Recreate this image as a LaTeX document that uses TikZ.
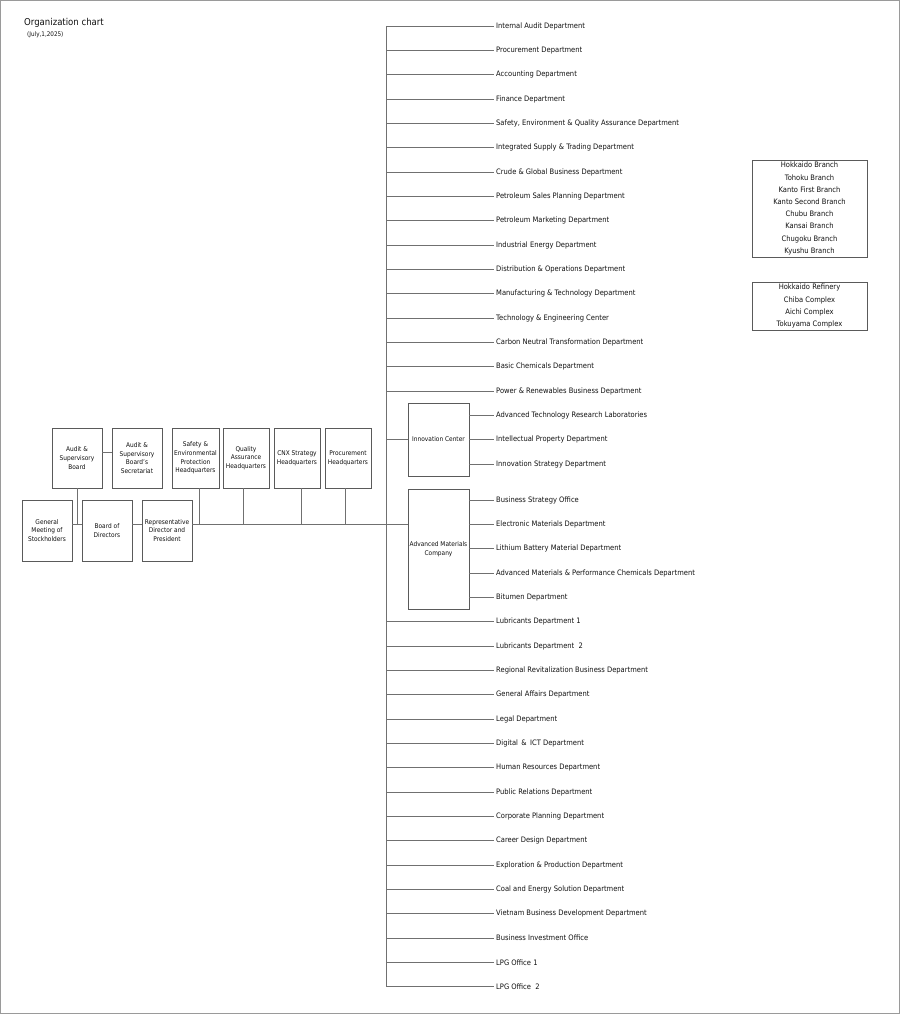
\documentclass[tikz,border=0pt]{standalone}
\usepackage{fontspec}
\setmainfont{DejaVu Sans}[FakeStretch=0.9]
\definecolor{linegray}{HTML}{707070}
\definecolor{boxgray}{HTML}{5A5A5A}
\definecolor{framegray}{HTML}{9A9A9A}
\definecolor{textgray}{HTML}{101010}
\begin{document}
\begin{tikzpicture}[x=1pt,y=-1pt,
    dept/.style={anchor=west,inner sep=2pt,text=textgray,font=\fontsize{7.5}{9}\selectfont},
    unit/.style={draw=boxgray,line width=0.8pt,align=center,inner sep=1pt,text=textgray,font=\fontsize{6.5}{8.7}\selectfont},
    sitelist/.style={draw=boxgray,line width=0.8pt,align=center,inner sep=0pt,minimum width=115,text=textgray,font=\fontsize{7.5}{12.2}\selectfont},
    link/.style={draw=linegray,line width=0.8pt}]
  \useasboundingbox (0,0) rectangle (900,1014);
  \draw[framegray,line width=1.2pt] (0.6,0.6) rectangle (899.4,1013.4);
  \node[anchor=base west,inner sep=0pt,text=textgray,font=\fontsize{9.5}{11}\selectfont] (title) at (24,26) {Organization chart};
  \node[anchor=base west,inner sep=0pt,text=textgray,font=\fontsize{6.3}{8}\selectfont] (date) at (27,37) {(July,1,2025)};
  \coordinate (trunk) at (386,0);
  \coordinate (main) at (0,524.5);
  % top management
  \draw
    (47,530.5) node[unit,minimum width=50,minimum height=61] (gm){General\\Meeting of\\Stockholders}
    (107,530.5) node[unit,minimum width=50,minimum height=61] (bod){Board of\\Directors}
    (167,530.5) node[unit,minimum width=50,minimum height=61] (rep){Representative\\Director and\\President}
    (77,458) node[unit,minimum width=50,minimum height=60] (asb){Audit \&\\Supervisory\\Board}
    (137,458) node[unit,minimum width=50,minimum height=60] (sec){Audit \&\\Supervisory\\Board's\\Secretariat}
    (195.5,458) node[unit,minimum width=47,minimum height=60] (seh){Safety \&\\Environmental\\Protection\\Headquarters}
    (246,458) node[unit,minimum width=46,minimum height=60] (qah){Quality\\Assurance\\Headquarters}
    (297,458) node[unit,minimum width=46,minimum height=60] (cnx){CNX Strategy\\Headquarters}
    (348,458) node[unit,minimum width=46,minimum height=60] (prh){Procurement\\Headquarters};
  % departments
  \draw[nodes={dept}]
    (494,26.0) node (d1){Internal Audit Department}
    (494,50.3) node (d2){Procurement Department}
    (494,74.7) node (d3){Accounting Department}
    (494,99.0) node (d4){Finance Department}
    (494,123.3) node (d5){Safety, Environment \& Quality Assurance Department}
    (494,147.7) node (d6){Integrated Supply \& Trading Department}
    (494,172.0) node (d7){Crude \& Global Business Department}
    (494,196.3) node (d8){Petroleum Sales Planning Department}
    (494,220.7) node (d9){Petroleum Marketing Department}
    (494,245.0) node (d10){Industrial Energy Department}
    (494,269.3) node (d11){Distribution \& Operations Department}
    (494,293.7) node (d12){Manufacturing \& Technology Department}
    (494,318.0) node (d13){Technology \& Engineering Center}
    (494,342.3) node (d14){Carbon Neutral Transformation Department}
    (494,366.7) node (d15){Basic Chemicals Department}
    (494,391.0) node (d16){Power \& Renewables Business Department}
    (494,621.7) node (d17){Lubricants Department 1}
    (494,646.0) node (d18){Lubricants Department\ \ 2}
    (494,670.3) node (d19){Regional Revitalization Business Department}
    (494,694.7) node (d20){General Affairs Department}
    (494,719.0) node (d21){Legal Department}
    (494,743.3) node (d22){Digital \,\&\, ICT Department}
    (494,767.7) node (d23){Human Resources Department}
    (494,792.0) node (d24){Public Relations Department}
    (494,816.3) node (d25){Corporate Planning Department}
    (494,840.7) node (d26){Career Design Department}
    (494,865.0) node (d27){Exploration \& Production Department}
    (494,889.3) node (d28){Coal and Energy Solution Department}
    (494,913.7) node (d29){Vietnam Business Development Department}
    (494,938.0) node (d30){Business Investment Office}
    (494,962.3) node (d31){LPG Office 1}
    (494,986.7) node (d32){LPG Office\ \ 2};
  % innovation center and advanced materials company
  \draw
    (438.5,439.5) node[unit,minimum width=61,minimum height=73] (ic){Innovation Center}
    (438.5,549) node[unit,minimum width=61,minimum height=120] (amc){Advanced Materials\\Company};
  \draw[nodes={dept}]
    (494,415.3) node (i1){Advanced Technology Research Laboratories}
    (494,439.7) node (i2){Intellectual Property Department}
    (494,464.0) node (i3){Innovation Strategy Department}
    (494,500.0) node (m1){Business Strategy Office}
    (494,524.3) node (m2){Electronic Materials Department}
    (494,548.7) node (m3){Lithium Battery Material Department}
    (494,573.0) node (m4){Advanced Materials \& Performance Chemicals Department}
    (494,597.3) node (m5){Bitumen Department};
  % branches and complexes
  \draw
    (809.5,208.5) node[sitelist,minimum height=97,text depth=1.5pt] (br){Hokkaido Branch\\Tohoku Branch\\Kanto First Branch\\Kanto Second Branch\\Chubu Branch\\Kansai Branch\\Chugoku Branch\\Kyushu Branch}
    (809.5,306) node[sitelist,minimum height=48,text depth=1.5pt] (cx){Hokkaido Refinery\\Chiba Complex\\Aichi Complex\\Tokuyama Complex};
  \begin{scope}[link]
    \draw (gm.east |- main) to (bod.west |- main);
    \draw (bod.east |- main) to (rep.west |- main);
    \draw (rep.east |- main) to (amc.west |- main);
    \draw (asb.south) to (asb.south |- main);
    \draw ([yshift=6]asb.east) to ([yshift=6]sec.west);
    \draw ([xshift=3.5]seh.south) to ([xshift=3.5]seh.south |- main);
    \draw ([xshift=-3]qah.south) to ([xshift=-3]qah.south |- main);
    \draw ([xshift=4]cnx.south) to ([xshift=4]cnx.south |- main);
    \draw ([xshift=-3]prh.south) to ([xshift=-3]prh.south |- main);
    \draw (d1.west -| trunk) to (d32.west -| trunk);
    \draw (ic.west -| trunk) to (ic.west);
    \draw (d1.west -| trunk) to (d1.west);
    \draw (d2.west -| trunk) to (d2.west);
    \draw (d3.west -| trunk) to (d3.west);
    \draw (d4.west -| trunk) to (d4.west);
    \draw (d5.west -| trunk) to (d5.west);
    \draw (d6.west -| trunk) to (d6.west);
    \draw (d7.west -| trunk) to (d7.west);
    \draw (d8.west -| trunk) to (d8.west);
    \draw (d9.west -| trunk) to (d9.west);
    \draw (d10.west -| trunk) to (d10.west);
    \draw (d11.west -| trunk) to (d11.west);
    \draw (d12.west -| trunk) to (d12.west);
    \draw (d13.west -| trunk) to (d13.west);
    \draw (d14.west -| trunk) to (d14.west);
    \draw (d15.west -| trunk) to (d15.west);
    \draw (d16.west -| trunk) to (d16.west);
    \draw (d17.west -| trunk) to (d17.west);
    \draw (d18.west -| trunk) to (d18.west);
    \draw (d19.west -| trunk) to (d19.west);
    \draw (d20.west -| trunk) to (d20.west);
    \draw (d21.west -| trunk) to (d21.west);
    \draw (d22.west -| trunk) to (d22.west);
    \draw (d23.west -| trunk) to (d23.west);
    \draw (d24.west -| trunk) to (d24.west);
    \draw (d25.west -| trunk) to (d25.west);
    \draw (d26.west -| trunk) to (d26.west);
    \draw (d27.west -| trunk) to (d27.west);
    \draw (d28.west -| trunk) to (d28.west);
    \draw (d29.west -| trunk) to (d29.west);
    \draw (d30.west -| trunk) to (d30.west);
    \draw (d31.west -| trunk) to (d31.west);
    \draw (d32.west -| trunk) to (d32.west);
    \draw (ic.east |- i1.west) to (i1.west);
    \draw (ic.east |- i2.west) to (i2.west);
    \draw (ic.east |- i3.west) to (i3.west);
    \draw (amc.east |- m1.west) to (m1.west);
    \draw (amc.east |- m2.west) to (m2.west);
    \draw (amc.east |- m3.west) to (m3.west);
    \draw (amc.east |- m4.west) to (m4.west);
    \draw (amc.east |- m5.west) to (m5.west);
  \end{scope}
\end{tikzpicture}
\end{document}
